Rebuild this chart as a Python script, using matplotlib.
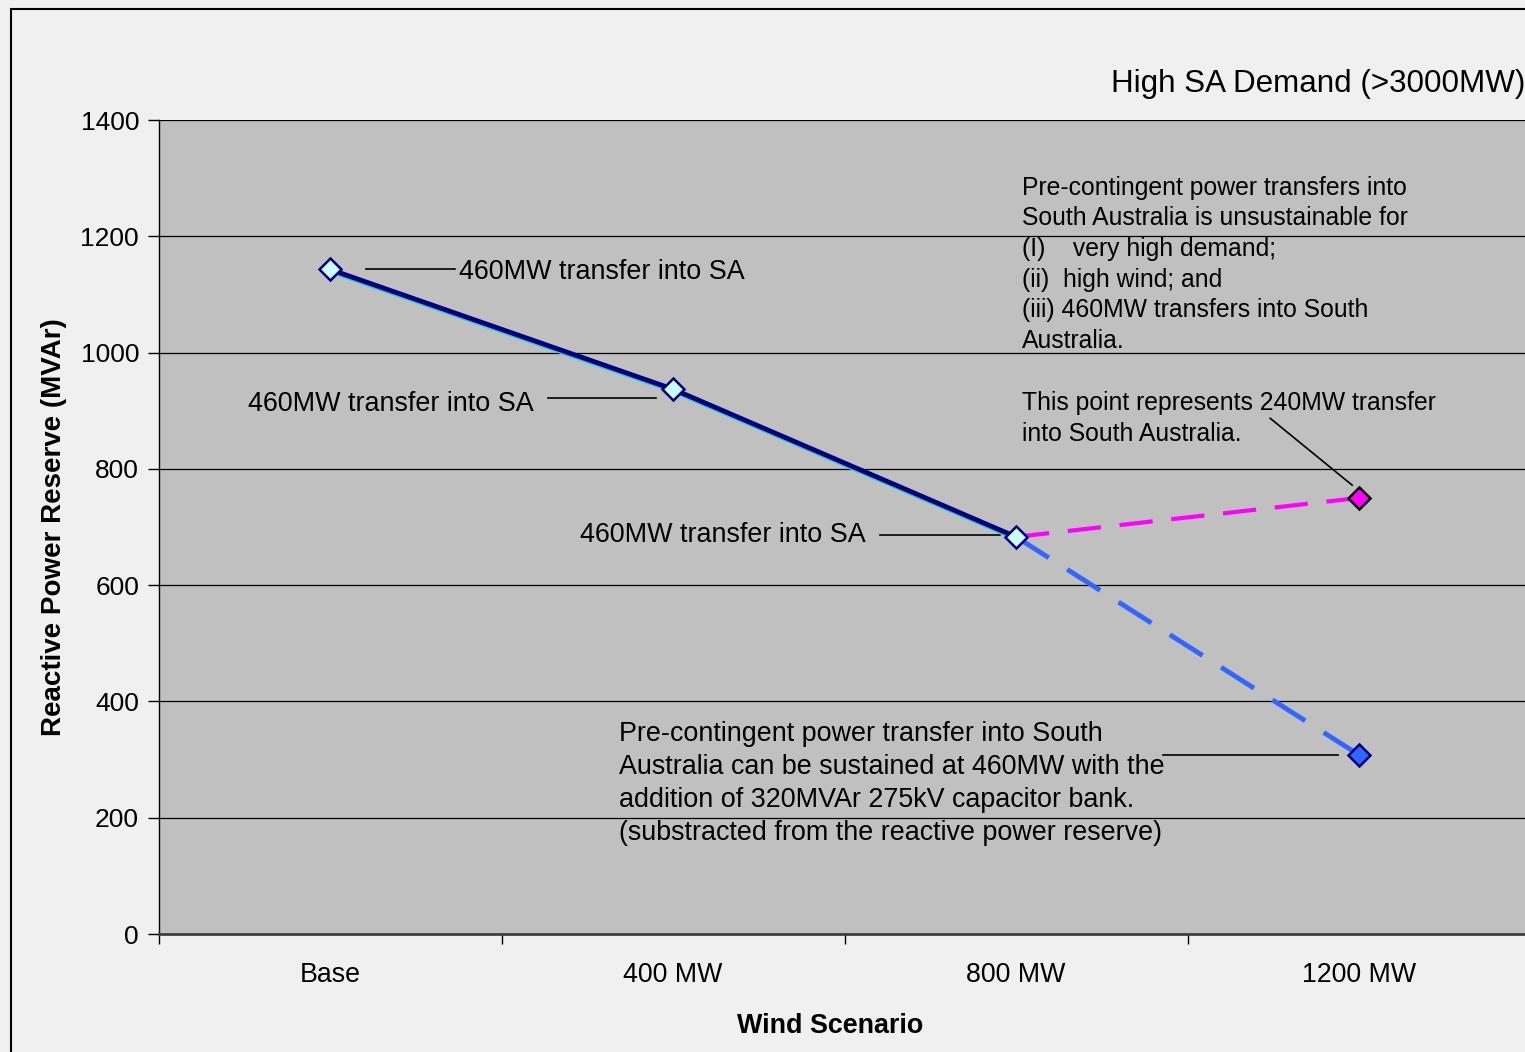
import numpy as np
import matplotlib.pyplot as plt
import matplotlib.transforms as mtransforms
from matplotlib.patches import Rectangle

plt.rcParams['font.family'] = ['Liberation Sans', 'DejaVu Sans']

# data
scenarios = ['Base', '400 MW', '800 MW', '1200 MW']
reserve_460 = [1143, 937, 683]          # Base .. 800 MW, 460MW transfer
reserve_240_1200 = [683, 750]           # 800 MW -> 1200 MW, 240MW transfer
reserve_cap_1200 = [683, 308]           # 800 MW -> 1200 MW, with capacitor bank

fig = plt.figure(figsize=(15.25, 10.52), dpi=100)
fig.patch.set_facecolor('#f0f0f0')
fig.patches.append(Rectangle((11 / 1525, -0.1), 1.2, 1.1 - 9 / 1052,
                             transform=fig.transFigure, fill=False,
                             edgecolor='black', linewidth=1.5))

ax = fig.add_axes([158.5 / 1525, 1 - 934 / 1052, 1372 / 1525, 814 / 1052])
ax.set_facecolor('#c0c0c0')

x = np.arange(len(scenarios))

# dashed extensions
ax.plot(x[2:], reserve_cap_1200, color='#3366ff', lw=3.5, dashes=(8, 4.5),
        marker='D', ms=11, mfc='#3366ff', mec='#000080', mew=1.8, markevery=[1],
        zorder=3)
ax.plot(x[2:], reserve_240_1200, color='#ff00ff', lw=3, dashes=(8, 4.5),
        marker='D', ms=11, mfc='#ff00ff', mec='black', mew=1.8, markevery=[1],
        zorder=3)

# main line with cyan shadow
shadow = mtransforms.offset_copy(ax.transData, fig=fig, x=0, y=-1.5, units='dots')
ax.plot(x[:3], reserve_460, color='#33cccc', lw=3.5, transform=shadow, zorder=4)
ax.plot(x[:3], reserve_460, color='#000080', lw=3.5, zorder=5)
ax.plot(x[:3], reserve_460, ls='none', marker='D', ms=11, mfc='#ccffff',
        mec='#000080', mew=1.8, zorder=6)

ax.set_xlim(-0.5, 3.5)
ax.set_ylim(0, 1400)
ax.set_yticks(np.arange(0, 1401, 200))
ax.yaxis.grid(True, color='black', lw=0.9)
ax.set_axisbelow(True)
ax.set_xticks(x)
ax.set_xticklabels(scenarios, fontsize=19.3)
ax.set_xticks(np.arange(-0.5, 3.6, 1), minor=True)
ax.tick_params(axis='x', which='major', length=0, pad=20)
ax.tick_params(axis='x', which='minor', length=7, direction='out', width=1)
ax.tick_params(axis='y', labelsize=19, length=8, width=1, pad=6)
for s in ['top', 'right']:
    ax.spines[s].set_visible(False)
ax.spines['bottom'].set_color('#404040')
ax.spines['bottom'].set_linewidth(2)
ax.spines['left'].set_linewidth(1)

ax.set_xlabel('Wind Scenario', fontsize=19.4, fontweight='bold')
ax.xaxis.set_label_coords((830 - 158.5) / 1372, (934 - 1013) / 814)
ax.set_ylabel('Reactive Power Reserve (MVAr)', fontsize=20, fontweight='bold', labelpad=10)

fig.text(1111 / 1525, 1 - 84 / 1052, 'High SA Demand (>3000MW)', fontsize=22.6,
         ha='left', va='center')

# annotations
lab = '460MW transfer into SA'
ax.text(0.376, 1138, lab, fontsize=19.4, ha='left', va='center')
ax.plot([0.105, 0.364], [1144, 1144], color='black', lw=1.2)
ax.text(0.595, 911, lab, fontsize=19.4, ha='right', va='center')
ax.plot([0.636, 0.950], [922, 922], color='black', lw=1.2)
ax.text(1.563, 687, lab, fontsize=19.4, ha='right', va='center')
ax.plot([1.603, 1.953], [686, 686], color='black', lw=1.2)

ax.text(2.018, 1304,
        'Pre-contingent power transfers into\n'
        'South Australia is unsustainable for\n'
        '(I)    very high demand;\n'
        '(ii)  high wind; and\n'
        '(iii) 460MW transfers into South\n'
        'Australia.', fontsize=17.8, ha='left', va='top', linespacing=1.35)

ax.text(2.018, 934,
        'This point represents 240MW transfer\ninto South Australia.',
        fontsize=17.8, ha='left', va='top', linespacing=1.37)
ax.plot([2.741, 2.980], [887, 772], color='black', lw=1.2)

ax.text(0.843, 367,
        'Pre-contingent power transfer into South\n'
        'Australia can be sustained at 460MW with the\n'
        'addition of 320MVAr 275kV capacitor bank.\n'
        '(substracted from the reactive power reserve)',
        fontsize=19.4, ha='left', va='top', linespacing=1.36)
ax.plot([2.429, 2.939], [308, 308], color='black', lw=1.2)

fig.savefig('out.png', dpi=100, facecolor=fig.get_facecolor())
